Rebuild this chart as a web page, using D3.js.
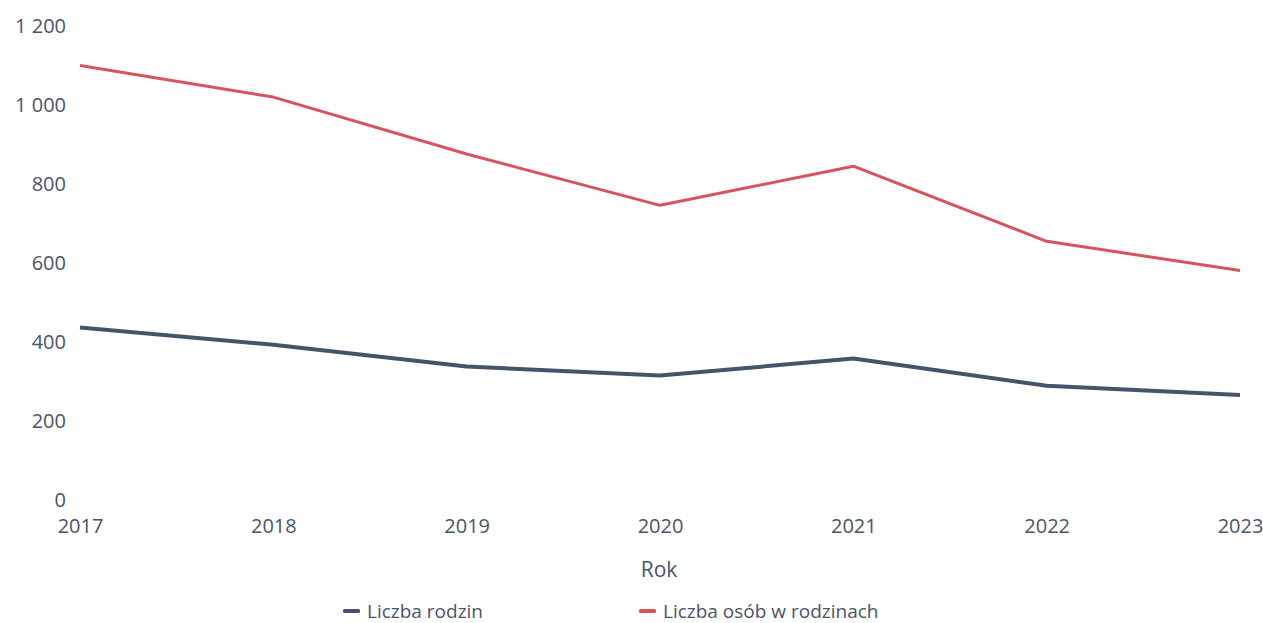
<!DOCTYPE html>
<html><head><meta charset="utf-8">
<script src="https://cdn.jsdelivr.net/npm/d3@7"></script>
<style>body{margin:0;background:#fff;}svg{display:block;font-family:"Open Sans",sans-serif;}</style>
</head><body><svg id="c" width="1263" height="623"></svg>
<script>
const years = ["2017","2018","2019","2020","2021","2022","2023"];
const liczbaRodzin = [437, 393, 338, 315, 358, 289, 266];
const liczbaOsob = [1100, 1020, 876, 746, 845, 655, 581];
const yTicks = [0, 200, 400, 600, 800, 1000, 1200];
const seriesNames = ["Liczba rodzin", "Liczba osób w rodzinach"];
const seriesColors = ["#46546a", "#d6545e"];
const textColor = "#4a5568";

const svg = d3.select("#c");
const x = d3.scalePoint().domain(years).range([80, 1240]);
const y = d3.scaleLinear().domain([0, 1200]).range([500, 26]);
const fmt = v => d3.format(",")(v).replace(/,/g, " ");

const yAx = svg.append("g").attr("transform","translate(66,0)")
  .call(d3.axisLeft(y).tickValues(yTicks).tickSize(0).tickFormat(fmt));
yAx.select(".domain").remove();
yAx.selectAll("text").attr("fill", textColor).attr("font-size", 20).attr("font-family","Open Sans").attr("x",0);

const xAx = svg.append("g").attr("transform","translate(0,518)")
  .call(d3.axisBottom(x).tickSize(0));
xAx.select(".domain").remove();
xAx.selectAll("text").attr("fill", textColor).attr("font-size", 20).attr("font-family","Open Sans").attr("y",0).attr("dy","0.75em");

svg.append("text").attr("x", 659).attr("y", 577).attr("text-anchor","middle")
  .attr("fill", textColor).attr("font-size", 21).text("Rok");

const line = d3.line().x((d,i)=>x(years[i])).y(d=>y(d));
const data = [liczbaRodzin, liczbaOsob];
const widths = [4, 3];
data.forEach((s,k)=>{
  svg.append("path").datum(s).attr("d", line).attr("fill","none")
    .attr("stroke", seriesColors[k]).attr("stroke-width", widths[k]).attr("stroke-linejoin","round");
});

const legX = [343, 639];
seriesNames.forEach((n,k)=>{
  const g = svg.append("g").attr("transform",`translate(${legX[k]},611)`);
  g.append("rect").attr("x",0).attr("y",-2).attr("width",17).attr("height",4).attr("rx",1.5).attr("fill",seriesColors[k]);
  g.append("text").attr("x",24).attr("y",0).attr("dy","0.35em").attr("fill",textColor).attr("font-size",19).text(n);
});
</script></body></html>
